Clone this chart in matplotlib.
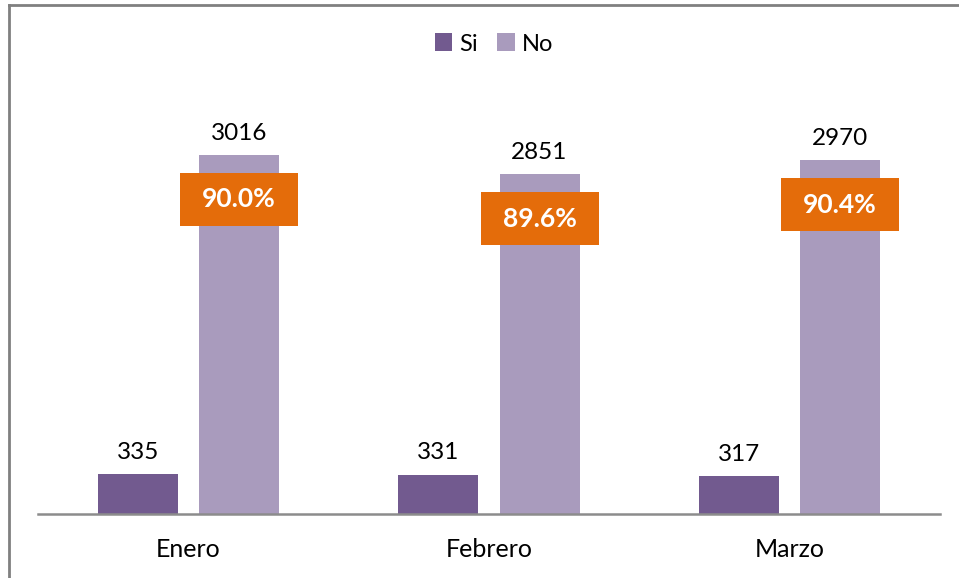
import numpy as np
import matplotlib
matplotlib.use("Agg")
import matplotlib.pyplot as plt
from matplotlib.patches import Patch, Rectangle
from matplotlib.lines import Line2D

months = ["Enero", "Febrero", "Marzo"]
si_vals = [335, 331, 317]
no_vals = [3016, 2851, 2970]
pct_labels = ["90.0%", "89.6%", "90.4%"]

si_color = "#725A8F"
no_color = "#A99BBD"
box_color = "#E46C0A"

plt.rcParams['font.family'] = ['Lato', 'DejaVu Sans']

W, H = 959, 578
fig = plt.figure(figsize=(W / 100, H / 100), dpi=100)
ax_left, ax_right, ax_bottom, ax_top = 38, 940, 514, 97
ax = fig.add_axes([ax_left / W, 1 - ax_bottom / H,
                   (ax_right - ax_left) / W, (ax_bottom - ax_top) / H])

ymax = 3500
x = np.arange(len(months))
bw = 0.266
gap = 0.07
xs_si = x - (bw + gap) / 2
xs_no = x + (bw + gap) / 2

ax.bar(xs_si, si_vals, width=bw, color=si_color)
ax.bar(xs_no, no_vals, width=bw, color=no_color)

for xi, v in zip(xs_si, si_vals):
    ax.annotate(str(v), (xi, v), xytext=(0, 8), textcoords="offset points",
                ha="center", va="bottom", fontsize=17.5, color="#000000")
for xi, v in zip(xs_no, no_vals):
    ax.annotate(str(v), (xi, v), xytext=(0, 8), textcoords="offset points",
                ha="center", va="bottom", fontsize=17.5, color="#000000")

# orange percentage boxes
px_per_unit = (ax_bottom - ax_top) / ymax
px_per_x = (ax_right - ax_left) / 3
bx_w = 118 / px_per_x
bx_h = 53 / px_per_unit
bx_gap = 18 / px_per_unit
for xi, v, lab in zip(xs_no, no_vals, pct_labels):
    top = v - bx_gap
    ax.add_patch(Rectangle((xi - bx_w / 2, top - bx_h), bx_w, bx_h,
                           facecolor=box_color, edgecolor="none", zorder=3))
    ax.text(xi, top - bx_h / 2, lab, ha="center", va="center", color="white",
            fontsize=19, fontweight="bold", zorder=4)

ax.set_xlim(-0.5, 2.5)
ax.set_ylim(0, ymax)
ax.set_yticks([])
ax.set_xticks(x)
ax.set_xticklabels(months, fontsize=18)
ax.tick_params(axis="x", length=0, pad=17)
for s in ["top", "right", "left"]:
    ax.spines[s].set_visible(False)
ax.spines["bottom"].set_color("#8C8C8C")
ax.spines["bottom"].set_linewidth(1.8)

handles = [Patch(facecolor=si_color, label="Si"), Patch(facecolor=no_color, label="No")]
fig.legend(handles=handles, loc="center", bbox_to_anchor=(0.515, 1 - 44 / H),
           ncol=2, frameon=False, fontsize=17, handlelength=0.75, handleheight=0.8,
           handletextpad=0.3, columnspacing=0.8)

# outer chart border (left and top visible)
fig.add_artist(Line2D([8.5 / W, 8.5 / W], [0, 1 - 4.5 / H], color="#808080", lw=2))
fig.add_artist(Line2D([8.5 / W, 1], [1 - 4.5 / H, 1 - 4.5 / H], color="#808080", lw=2))

fig.savefig("out.png", dpi=100)
